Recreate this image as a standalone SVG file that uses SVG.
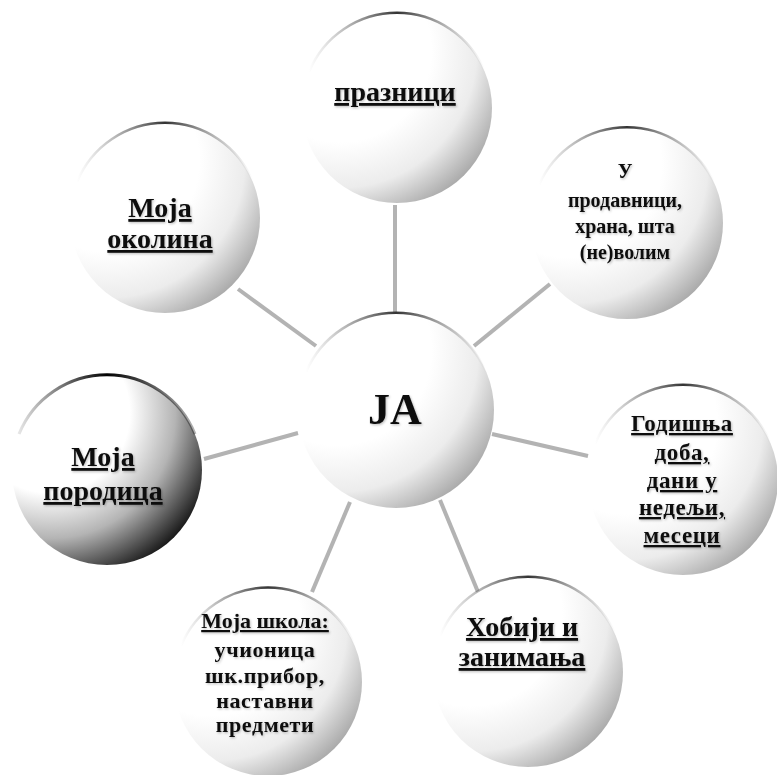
<svg xmlns="http://www.w3.org/2000/svg" width="777" height="775" viewBox="0 0 777 775">
<defs>
<radialGradient id="g" cx="0.2" cy="0.2" r="1" fx="0.2" fy="0.2">
<stop offset="0" stop-color="#ffffff"/>
<stop offset="0.48" stop-color="#ffffff"/>
<stop offset="0.72" stop-color="#ececec"/>
<stop offset="0.95" stop-color="#a2a2a2"/>
</radialGradient>
<radialGradient id="gd" cx="0.2" cy="0.2" r="1" fx="0.2" fy="0.2">
<stop offset="0" stop-color="#ffffff"/>
<stop offset="0.42" stop-color="#ffffff"/>
<stop offset="0.66" stop-color="#b4b4b4"/>
<stop offset="0.95" stop-color="#0a0a0a"/>
</radialGradient>
<linearGradient id="rim" x1="0" y1="0" x2="1" y2="0">
<stop offset="0" stop-color="#777" stop-opacity="0"/>
<stop offset="0.5" stop-color="#333"/>
<stop offset="1" stop-color="#777" stop-opacity="0"/>
</linearGradient>
<linearGradient id="rimd" x1="0" y1="0" x2="1" y2="0">
<stop offset="0" stop-color="#000" stop-opacity="0.1"/>
<stop offset="0.5" stop-color="#000"/>
<stop offset="1" stop-color="#000" stop-opacity="0.3"/>
</linearGradient>
<filter id="sh" x="-10%" y="-20%" width="130%" height="150%">
<feDropShadow dx="1" dy="1.2" stdDeviation="0.8" flood-color="#000" flood-opacity="0.25"/>
</filter>
</defs>
<style>
.c{fill:url(#g);}
.cd{fill:url(#gd);}
.rim{fill:none;stroke:url(#rim);stroke-width:2.5;}
.rimd{fill:none;stroke:url(#rimd);stroke-width:3;}
text{font-family:"Liberation Serif","Times New Roman",serif;font-weight:bold;fill:#111;text-anchor:middle;filter:url(#sh);}
.u{text-decoration:underline;text-decoration-skip-ink:none;}
.big{font-size:28px;}
.mid{font-size:20px;}
.mw{font-size:22px;letter-spacing:0.6px;}
.sw{font-size:23px;letter-spacing:0.6px;}
.ja{font-size:44px;}
.conn line{stroke:#b3b3b3;stroke-width:4;}
</style>
<g id="connectors" class="conn">
<line x1="395" y1="205" x2="395" y2="312"/>
<line x1="550" y1="284" x2="474" y2="346"/>
<line x1="238" y1="289" x2="316" y2="346"/>
<line x1="204" y1="459" x2="298" y2="433"/>
<line x1="492" y1="434" x2="588" y2="456"/>
<line x1="440" y1="500" x2="478" y2="592"/>
<line x1="350" y1="502" x2="312" y2="592"/>
</g>
<g id="n-top" transform="translate(397,108)">
<circle class="c" r="95"/>
<path class="rim" d="M-88,-36 A95,95 0 0 1 88,-36"/>
<text class="big u" x="-2" y="-7">празници</text>
</g>
<g id="n-shop" transform="translate(627,223)">
<circle class="c" r="96"/>
<path class="rim" d="M-88,-38 A96,96 0 0 1 88,-38"/>
<text class="mid" x="-2" y="-45">У</text>
<text class="mid" x="-2" y="-16">продавници,</text>
<text class="mid" x="-2" y="10">храна, шта</text>
<text class="mid" x="-2" y="36">(не)волим</text>
</g>
<g id="n-env" transform="translate(165,218)">
<circle class="c" r="95"/>
<path class="rim" d="M-88,-36 A95,95 0 0 1 88,-36"/>
<text class="big u" x="-5" y="-1">Моја</text>
<text class="big u" x="-5" y="30">околина</text>
</g>
<g id="n-family" transform="translate(107,470)">
<circle class="cd" r="95"/>
<path class="rimd" d="M-88,-36 A95,95 0 0 1 88,-36"/>
<text class="big u" x="-4" y="-4">Моја</text>
<text class="big u" x="-4" y="30">породица</text>
</g>
<g id="n-seasons" transform="translate(683,480)">
<circle class="c" r="95"/>
<path class="rim" d="M-88,-36 A95,95 0 0 1 88,-36"/>
<text class="sw u" x="-1" y="-49">Годишња</text>
<text class="sw u" x="-1" y="-20">доба,</text>
<text class="sw u" x="-1" y="8">дани у</text>
<text class="sw u" x="-1" y="35">недељи,</text>
<text class="sw u" x="-1" y="63">месеци</text>
</g>
<g id="n-hobby" transform="translate(528,672)">
<circle class="c" r="95"/>
<path class="rim" d="M-88,-36 A95,95 0 0 1 88,-36"/>
<text class="big u" x="-6" y="-36">Хобији и</text>
<text class="big u" x="-6" y="-6">занимања</text>
</g>
<g id="n-school" transform="translate(268,682)">
<circle class="c" r="94"/>
<path class="rim" d="M-87,-36 A94,94 0 0 1 87,-36"/>
<text class="mw u" x="-3" y="-54" style="letter-spacing:0">Моја школа:</text>
<text class="mw" x="-3" y="-25">учионица</text>
<text class="mw" x="-3" y="1">шк.прибор,</text>
<text class="mw" x="-3" y="26">наставни</text>
<text class="mw" x="-3" y="50">предмети</text>
</g>
<g id="n-center" transform="translate(396,410)">
<circle class="c" r="98"/>
<path class="rim" d="M-90,-38 A98,98 0 0 1 90,-38"/>
<text class="ja" x="-1" y="14">JA</text>
</g>
</svg>
